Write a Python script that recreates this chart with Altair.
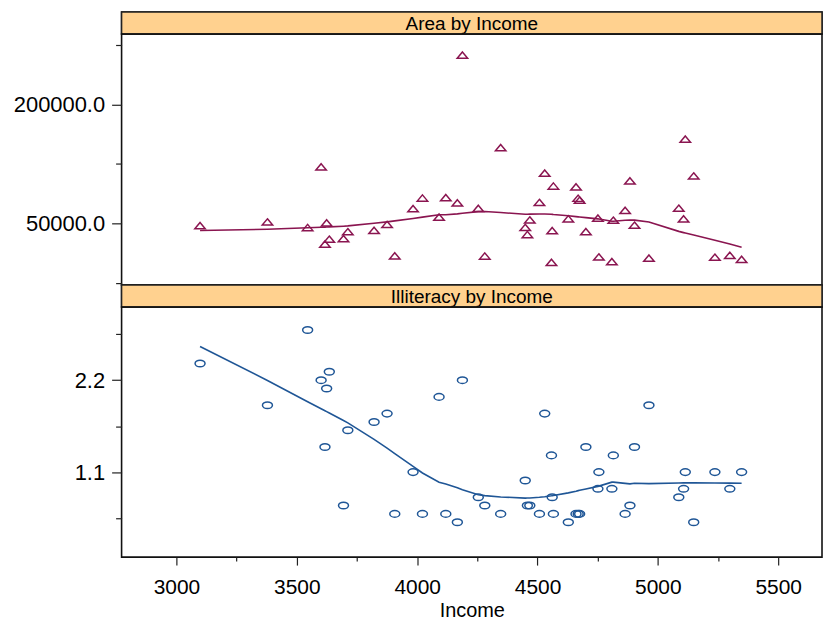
import altair as alt
import pandas as pd

# state.x77 (without Alaska): Income, Illiteracy, Area
income = [3624, 4530, 3378, 5114, 4884, 5348, 4809, 4815, 4091, 4963, 4119, 5107, 4458,
          4628, 4669, 3712, 3545, 3694, 5299, 4755, 4751, 4675, 3098, 4254, 4347, 4508,
          5149, 4281, 5237, 3601, 4903, 3875, 5087, 4561, 3983, 4660, 4449, 4558, 3635,
          4167, 3821, 4188, 4022, 3907, 4701, 4864, 3617, 4468, 4566]
illiteracy = [2.1, 1.8, 1.9, 1.1, 0.7, 1.1, 0.9, 1.3, 2.0, 1.9, 0.6, 0.9, 0.7,
              0.5, 0.6, 1.6, 2.8, 0.7, 0.9, 1.1, 0.9, 0.6, 2.4, 0.8, 0.6, 0.6,
              0.5, 0.7, 1.1, 2.2, 1.4, 1.8, 0.8, 0.8, 1.1, 0.6, 1.0, 1.3, 2.3,
              0.5, 1.7, 2.2, 0.6, 0.6, 1.4, 0.6, 1.4, 0.7, 0.6]
area = [50708, 113417, 51945, 156361, 103766, 4862, 1982, 54090, 58073, 6425, 82677, 55748, 36097,
        55941, 81787, 39650, 44930, 30920, 9891, 7826, 56817, 79289, 47296, 68995, 145587, 76483,
        109889, 9027, 7521, 121412, 47831, 48798, 69273, 40975, 68782, 96184, 44966, 1049, 30225,
        75955, 41328, 262134, 82096, 9267, 39780, 66570, 24070, 54464, 97203]

strip_titles = ["Area by Income", "Illiteracy by Income"]
x_major = [3000, 3500, 4000, 4500, 5000, 5500]
x_minor = [3250, 3750, 4250, 4750, 5250]
area_major = [50000, 200000]
area_minor = [-25000, 125000, 275000]
illit_major = [1.1, 2.2]
illit_minor = [0.55, 1.65, 2.75]

df = pd.DataFrame({"Income": income, "Illiteracy": illiteracy, "Area": area})

W = 703
FONT = "Liberation Sans"
STRIP_FILL = "#FFD18F"
RED = "#8A1550"
BLUE = "#1F5696"
TICK = "#222222"
TRI = "M0,-0.62L1,0.58L-1,0.58Z"
ELL = "M-1,0A1,0.66 0 1,0 1,0A1,0.66 0 1,0 -1,0Z"

x_dom = [2772, 5682]


def strip(title):
    d = pd.DataFrame({"label": [title]})
    base = alt.Chart(d)
    rect = base.mark_rect(fill=STRIP_FILL, stroke="#222222", strokeWidth=1.5).encode(
        x=alt.value(0), x2=alt.value(W), y=alt.value(0), y2=alt.value(22))
    txt = base.mark_text(font=FONT, fontSize=19, color="black", baseline="middle", align="center").encode(
        x=alt.value(W / 2), y=alt.value(11.5), text="label:N")
    return (rect + txt).properties(width=W, height=22)


def y_major(vals):
    return alt.Axis(values=vals, format=".1f", orient="left",
                    grid=False, tickSize=10, labelPadding=7, labelFontSize=22, labelFont=FONT,
                    labelColor="black", tickColor=TICK, domain=False, title=None,
                    minExtent=113, maxExtent=113, tickWidth=1.2)


def y_minor(vals):
    return alt.Axis(values=vals, orient="left", labels=False, grid=False, tickSize=6,
                    tickColor=TICK, domain=False, title=None, minExtent=113, maxExtent=113,
                    tickWidth=1.2)


xscale = alt.Scale(domain=x_dom, nice=False, zero=False)
x_none = alt.X("Income:Q", scale=xscale, axis=None)
x_maj = alt.X("Income:Q", scale=xscale,
              axis=alt.Axis(values=x_major, format="d", orient="bottom",
                            grid=False, tickSize=8, labelPadding=12, labelFontSize=21, labelFont=FONT,
                            labelColor="black", tickColor=TICK, domain=False, title="Income",
                            titleFont=FONT, titleFontSize=20, titleFontWeight="normal",
                            titleColor="black", titlePadding=3, tickWidth=1.2))
x_min = alt.X("Income:Q", scale=xscale,
              axis=alt.Axis(values=x_minor, orient="bottom", labels=False, grid=False, tickSize=4,
                            tickColor=TICK, domain=False, title=None, tickWidth=1.2))

area_scale = alt.Scale(domain=[-27500, 288750], nice=False, zero=False)
illit_scale = alt.Scale(domain=[0.083, 3.075], nice=False, zero=False)

base_top = alt.Chart(df)
pts_top = base_top.mark_point(shape=TRI, size=110, filled=False, color=RED, opacity=1,
                              strokeWidth=1.5).encode(
    x=x_none, y=alt.Y("Area:Q", scale=area_scale, axis=y_minor(area_minor)))
line_top = base_top.transform_loess("Income", "Area", bandwidth=0.5).mark_line(
    color=RED, strokeWidth=1.6).encode(
    x=x_none, y=alt.Y("Area:Q", scale=area_scale, axis=y_major(area_major)))
panel_top = alt.layer(line_top, pts_top).resolve_axis(y="independent").properties(width=W, height=252)

base_bot = alt.Chart(df)
pts_bot = base_bot.mark_point(shape=ELL, size=100, filled=False, color=BLUE, opacity=1,
                              strokeWidth=1.5).encode(
    x=x_min, y=alt.Y("Illiteracy:Q", scale=illit_scale, axis=y_minor(illit_minor)))
line_bot = base_bot.transform_loess("Income", "Illiteracy", bandwidth=0.5).mark_line(
    color=BLUE, strokeWidth=1.6).encode(
    x=x_maj, y=alt.Y("Illiteracy:Q", scale=illit_scale, axis=y_major(illit_major)))
panel_bot = alt.layer(line_bot, pts_bot).resolve_axis(x="independent", y="independent").properties(
    width=W, height=251)

chart = alt.vconcat(strip(strip_titles[0]), panel_top, strip(strip_titles[1]), panel_bot,
                    spacing=0, bounds="flush").properties(
    padding={"left": 0, "top": 1, "right": 0, "bottom": 0}
).configure(background="white").configure_view(stroke="#111111", strokeWidth=1.6)

chart.save("out.html", embed_options={"renderer": "svg", "actions": False})
